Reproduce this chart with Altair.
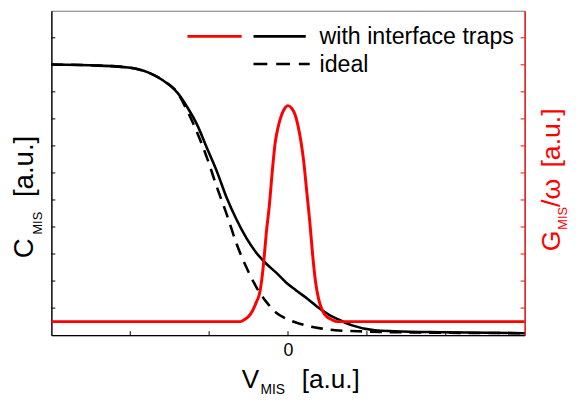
import altair as alt
import pandas as pd

# ---- data ----
v_solid = [-3.0, -2.4, -2.025, -1.775, -1.5875, -1.4, -1.275, -1.15, -1.025, -0.9,
           -0.775, -0.65, -0.525, -0.4, -0.275, -0.15, -0.025, 0.1, 0.25, 0.3875,
           0.5375, 0.6375, 0.8125, 1.1, 1.35, 1.975, 3.0]
c_solid = [10.01, 9.97, 9.90, 9.72, 9.43, 8.96, 8.42, 7.77, 6.90, 6.04,
           5.06, 4.26, 3.58, 3.04, 2.64, 2.31, 1.95, 1.66, 1.34, 1.01,
           0.72, 0.58, 0.36, 0.18, 0.145, 0.108, 0.072]

v_ideal = [-3.0, -2.4, -2.025, -1.775, -1.5875, -1.4, -1.275, -1.15, -1.025, -0.9,
           -0.775, -0.65, -0.525, -0.4, -0.275, -0.15, -0.025, 0.1, 0.225, 0.4125,
           0.6, 0.8875, 1.35, 3.0]
c_ideal = [10.01, 9.97, 9.90, 9.72, 9.43, 8.96, 8.28, 7.48, 6.54, 5.46,
           4.45, 3.36, 2.49, 1.77, 1.23, 0.83, 0.61, 0.47, 0.36, 0.25,
           0.18, 0.145, 0.108, 0.072]

v_g = [-3.0, -0.6, -0.55, -0.5, -0.45, -0.4, -0.3625, -0.325, -0.3, -0.275,
       -0.2375, -0.2, -0.1625, -0.125, -0.0875, -0.05, 0.0, 0.05, 0.0875, 0.125,
       0.1625, 0.2, 0.2375, 0.275, 0.3125, 0.35, 0.3875, 0.4375, 0.4875, 0.55,
       0.625, 3.0]
g_vals = [0.5, 0.5, 0.58, 0.69, 0.90, 1.23, 1.52, 2.24, 2.96, 3.79,
          4.77, 6.04, 7.12, 7.70, 8.10, 8.35, 8.49, 8.38, 8.17, 7.77,
          7.19, 6.40, 5.31, 4.23, 2.96, 1.95, 1.34, 0.90, 0.69, 0.58,
          0.5, 0.5]

x_ticks = [-2, -1, 0, 1, 2]
x_labels = [0]
y_ticks = list(range(1, 12))
legend_labels = ["with interface traps", "ideal"]

FONT = "Liberation Sans"
W, H = 480, 329

xs = alt.Scale(domain=[-3, 3], nice=False, zero=False)
ys = alt.Scale(domain=[0, 12], nice=False, zero=False)
gs = alt.Scale(domain=[0, 12], nice=False, zero=False)

x_axis = alt.Axis(values=x_labels, ticks=False, grid=False, title=None,
                  labelFontSize=18, labelFont=FONT, labelColor="black",
                  labelPadding=7, domainColor="black", domainWidth=1.3)
left_axis = alt.Axis(orient="left", labels=False, ticks=False, grid=False,
                     title=None, domainColor="black", domainWidth=1.3)
right_axis = alt.Axis(orient="right", labels=False, ticks=False, grid=False,
                      title=None, domainColor="red", domainWidth=1.3)

df_s = pd.DataFrame({"V": v_solid, "C": c_solid})
df_i = pd.DataFrame({"V": v_ideal, "C": c_ideal})
df_g = pd.DataFrame({"V": v_g, "G": g_vals})

X = alt.X("V:Q", scale=xs, axis=x_axis)

ideal = alt.Chart(df_i).mark_line(color="black", strokeWidth=2.6,
                                  strokeDash=[12, 8], interpolate="monotone").encode(
    x=X, y=alt.Y("C:Q", scale=ys, axis=left_axis))

solid = alt.Chart(df_s).mark_line(color="black", strokeWidth=2.6,
                                  interpolate="monotone").encode(
    x=X, y=alt.Y("C:Q", scale=ys, axis=left_axis))

lt = alt.Chart(pd.DataFrame({"C": y_ticks})).mark_rule(color="black", strokeWidth=1).encode(
    y=alt.Y("C:Q", scale=ys, axis=left_axis), x=alt.value(0), x2=alt.value(4))

xt = alt.Chart(pd.DataFrame({"V": x_ticks})).mark_rule(color="black", strokeWidth=1).encode(
    x=X, y=alt.value(H), y2=alt.value(H - 4))

gline = alt.Chart(df_g).mark_line(color="red", strokeWidth=3.0,
                                  interpolate="monotone").encode(
    x=X, y=alt.Y("G:Q", scale=gs, axis=right_axis))

rt = alt.Chart(pd.DataFrame({"G": y_ticks})).mark_rule(color="red", strokeWidth=1).encode(
    y=alt.Y("G:Q", scale=gs, axis=right_axis), x=alt.value(W - 4), x2=alt.value(W))

c_part = alt.layer(ideal, solid, lt, xt)
g_part = alt.layer(gline, rt)

one = pd.DataFrame({"k": [0]})


def txt(s, x, y, size, color="black", angle=0, baseline="alphabetic"):
    return alt.Chart(one).mark_text(text=s, font=FONT, fontSize=size, color=color,
                                    align="left", baseline=baseline, angle=angle).encode(
        x=alt.value(x), y=alt.value(y))


def seg(x1, x2, y, color, dash=None, width=2.6):
    kw = dict(color=color, strokeWidth=width)
    if dash:
        kw["strokeDash"] = dash
    return alt.Chart(one).mark_rule(**kw).encode(
        x=alt.value(x1), x2=alt.value(x2), y=alt.value(y))


legend = [
    seg(138, 193, 26, "red", width=3.0),
    seg(205, 258, 26, "black"),
    seg(205, 262, 54, "black", dash=[14, 9]),
    txt(legend_labels[0], 272, 27, 23.5, baseline="middle"),
    txt(legend_labels[1], 272, 55, 23.5, baseline="middle"),
]

titles = [
    # x title
    txt("V", 193, 383, 26.5),
    txt("MIS", 212, 389, 14),
    txt("[a.u.]", 254, 383, 26.5),
    # left title
    txt("C", -19, 251, 28, angle=270),
    txt("MIS", -10, 227, 13, angle=270),
    txt("[a.u.]", -19, 189, 28, angle=270),
    # right title
    txt("G", 516, 244, 27, color="red", angle=270),
    txt("MIS", 523, 222, 13, color="red", angle=270),
    txt("/\u03c9", 516, 199, 27, color="red", angle=270),
    txt("[a.u.]", 516, 159, 27, color="red", angle=270),
]

chart = alt.layer(c_part, g_part, *legend, *titles).resolve_scale(
    y="independent").resolve_axis(y="independent").properties(
    width=W, height=H,
    autosize=alt.AutoSizeParams(type="none"),
    padding={"left": 44, "top": 0, "right": 46, "bottom": 63},
).configure_view(stroke="#777777", strokeWidth=1)

chart.save("out.html", embed_options={"renderer": "svg", "actions": False})
